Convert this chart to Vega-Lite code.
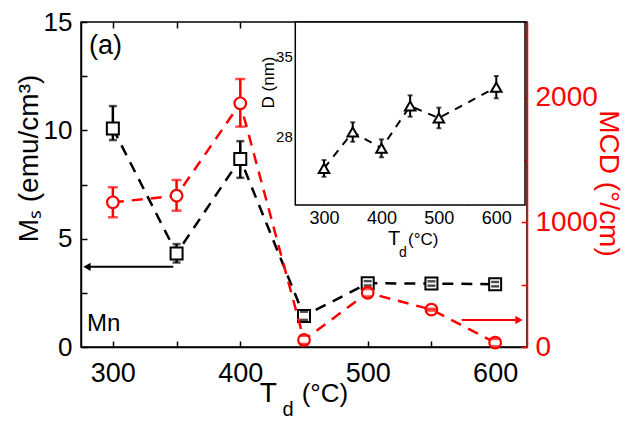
{
  "$schema": "https://vega.github.io/schema/vega-lite/v6.json",
  "width": 446,
  "height": 325,
  "autosize": "none",
  "padding": {"left": 81, "top": 22, "right": 103, "bottom": 74},
  "background": "white",
  "config": {
    "font": "Liberation Sans",
    "view": {"stroke": "black", "strokeWidth": 1.5},
    "axis": {"grid": false, "titleFontWeight": "normal", "labelOverlap": false, "labelFlush": false}
  },
  "datasets": {
    "ms": [
      {"td": 300, "v": 10.09, "lo": 9.55, "hi": 11.12},
      {"td": 350, "v": 4.32, "lo": 3.9, "hi": 4.75},
      {"td": 400, "v": 8.68, "lo": 7.81, "hi": 9.5},
      {"td": 450, "v": 1.43, "lo": 1.25, "hi": 1.63},
      {"td": 500, "v": 2.94, "lo": 2.84, "hi": 3.04},
      {"td": 550, "v": 2.93, "lo": 2.83, "hi": 3.03},
      {"td": 600, "v": 2.9, "lo": 2.8, "hi": 3.0}
    ],
    "mcd": [
      {"td": 300, "v": 1160, "lo": 1040, "hi": 1281},
      {"td": 350, "v": 1213, "lo": 1093, "hi": 1339},
      {"td": 400, "v": 1954, "lo": 1767, "hi": 2149},
      {"td": 450, "v": 56, "lo": 25, "hi": 90},
      {"td": 500, "v": 435, "lo": 405, "hi": 465},
      {"td": 550, "v": 300, "lo": 292, "hi": 306},
      {"td": 600, "v": 35, "lo": 5, "hi": 65}
    ],
    "dsize": [
      {"td": 300, "v": 25.2, "lo": 24.47, "hi": 25.93},
      {"td": 350, "v": 28.38, "lo": 27.53, "hi": 29.23},
      {"td": 400, "v": 26.96, "lo": 26.17, "hi": 27.74},
      {"td": 450, "v": 30.66, "lo": 29.72, "hi": 31.59},
      {"td": 500, "v": 29.6, "lo": 28.71, "hi": 30.51},
      {"td": 600, "v": 32.3, "lo": 31.33, "hi": 33.28}
    ]
  },
  "resolve": {"scale": {"x": "independent", "y": "independent"}},
  "layer": [
    {
      "layer": [
        {
          "data": {"name": "ms"},
          "mark": {"type": "line", "color": "black", "strokeWidth": 2.5, "strokeDash": [11, 8]},
          "encoding": {
            "x": {"field": "td", "type": "quantitative",
              "scale": {"domain": [275, 625], "nice": false, "zero": false},
              "axis": {"orient": "bottom", "values": [300, 350, 400, 450, 500, 550, 600],
                "labelExpr": "datum.value % 100 === 0 ? datum.label : ''",
                "tickSize": -6, "tickWidth": 1.5, "tickColor": "black", "labelPadding": 19,
                "labelFontSize": 27, "labelColor": "black", "domainColor": "black", "domainWidth": 1.5, "title": null}},
            "y": {"field": "v", "type": "quantitative",
              "scale": {"domain": [0, 15], "nice": false, "zero": false},
              "axis": {"orient": "left", "values": [0, 2.5, 5, 7.5, 10, 12.5, 15],
                "labelExpr": "datum.value % 5 === 0 ? datum.label : ''",
                "tickSize": -6, "tickWidth": 1.5, "tickColor": "black", "labelPadding": 15,
                "labelFontSize": 26, "labelColor": "black", "domainColor": "black", "domainWidth": 1.5,
                "title": "Mₛ (emu/cm³)", "titleFontSize": 28, "titleColor": "black",
                "titleAngle": -90, "titleX": -44, "titleY": 136, "titleAlign": "center", "titleBaseline": "alphabetic"}}
          }
        },
        {
          "data": {"name": "ms"},
          "mark": {"type": "rule", "color": "black", "strokeWidth": 2.5},
          "encoding": {
            "x": {"field": "td", "type": "quantitative"},
            "y": {"field": "lo", "type": "quantitative"},
            "y2": {"field": "hi"}
          }
        },
        {
          "data": {"name": "ms"},
          "mark": {"type": "point", "shape": "square", "filled": true, "fill": "white", "stroke": "black", "strokeWidth": 2, "size": 144, "opacity": 1},
          "encoding": {
            "x": {"field": "td", "type": "quantitative"},
            "y": {"field": "v", "type": "quantitative"}
          }
        },
        {
          "data": {"name": "ms"},
          "mark": {"type": "tick", "orient": "horizontal", "color": "black", "size": 8, "thickness": 2.5},
          "encoding": {
            "x": {"field": "td", "type": "quantitative"},
            "y": {"field": "lo", "type": "quantitative"}
          }
        },
        {
          "data": {"name": "ms"},
          "mark": {"type": "tick", "orient": "horizontal", "color": "black", "size": 8, "thickness": 2.5},
          "encoding": {
            "x": {"field": "td", "type": "quantitative"},
            "y": {"field": "hi", "type": "quantitative"}
          }
        },
        {
          "data": {"values": [{"x1": 347.4, "x2": 279.7, "y": 3.7}]},
          "mark": {"type": "rule", "color": "black", "strokeWidth": 2},
          "encoding": {
            "x": {"field": "x1", "type": "quantitative"},
            "x2": {"field": "x2"},
            "y": {"field": "y", "type": "quantitative"}
          }
        },
        {
          "data": {"values": [{"x": 279.7, "y": 3.7}]},
          "mark": {"type": "point", "shape": "triangle-left", "filled": true, "color": "black", "size": 70, "opacity": 1},
          "encoding": {
            "x": {"field": "x", "type": "quantitative"},
            "y": {"field": "y", "type": "quantitative"}
          }
        },
        {
          "data": {"values": [{"x": 281.3, "y": 13.89, "t": "(a)"}]},
          "mark": {"type": "text", "align": "left", "baseline": "middle", "fontSize": 27, "color": "black"},
          "encoding": {
            "x": {"field": "x", "type": "quantitative"},
            "y": {"field": "y", "type": "quantitative"},
            "text": {"field": "t"}
          }
        },
        {
          "data": {"values": [{"x": 279.7, "y": 1.06, "t": "Mn"}]},
          "mark": {"type": "text", "align": "left", "baseline": "middle", "fontSize": 24, "color": "black"},
          "encoding": {
            "x": {"field": "x", "type": "quantitative"},
            "y": {"field": "y", "type": "quantitative"},
            "text": {"field": "t"}
          }
        },
        {
          "data": {"values": [{"x": 422, "y": -2.52, "t": "T"}]},
          "mark": {"type": "text", "align": "center", "baseline": "alphabetic", "fontSize": 28, "color": "black"},
          "encoding": {
            "x": {"field": "x", "type": "quantitative"},
            "y": {"field": "y", "type": "quantitative"},
            "text": {"field": "t"}
          }
        },
        {
          "data": {"values": [{"x": 437.4, "y": -3.18, "t": "d"}]},
          "mark": {"type": "text", "align": "center", "baseline": "alphabetic", "fontSize": 20, "color": "black"},
          "encoding": {
            "x": {"field": "x", "type": "quantitative"},
            "y": {"field": "y", "type": "quantitative"},
            "text": {"field": "t"}
          }
        },
        {
          "data": {"values": [{"x": 448.2, "y": -2.54, "t": "(°C)"}]},
          "mark": {"type": "text", "align": "left", "baseline": "alphabetic", "fontSize": 26, "color": "black"},
          "encoding": {
            "x": {"field": "x", "type": "quantitative"},
            "y": {"field": "y", "type": "quantitative"},
            "text": {"field": "t"}
          }
        }
      ]
    },
    {
      "layer": [
        {
          "data": {"name": "mcd"},
          "mark": {"type": "line", "color": "#ff0000", "strokeWidth": 2.5, "strokeDash": [11, 8]},
          "encoding": {
            "x": {"field": "td", "type": "quantitative",
              "scale": {"domain": [275, 625], "nice": false, "zero": false},
              "axis": {"orient": "top", "values": [300, 350, 400, 450, 500, 550, 600],
                "labels": false, "tickSize": -6, "tickWidth": 1.5, "tickColor": "black", "domain": false, "title": null}},
            "y": {"field": "v", "type": "quantitative",
              "scale": {"domain": [0, 2606], "nice": false, "zero": false},
              "axis": {"orient": "right", "values": [0, 500, 1000, 1500, 2000, 2500],
                "labelExpr": "datum.value % 1000 === 0 ? datum.label : ''",
                "format": "d",
                "tickSize": -6, "tickWidth": 1.5, "tickColor": "#ff0000", "labelPadding": 14,
                "labelFontSize": 28, "labelColor": "#ff0000", "domainColor": "#ff0000", "domainWidth": 1.5,
                "title": "MCD (°/cm)", "titleFontSize": 28, "titleColor": "#ff0000",
                "titleAngle": 90, "titleX": 72, "titleY": 161, "titleAlign": "center", "titleBaseline": "alphabetic"}}
          }
        },
        {
          "data": {"name": "mcd"},
          "mark": {"type": "rule", "color": "#ff0000", "strokeWidth": 2.5},
          "encoding": {
            "x": {"field": "td", "type": "quantitative"},
            "y": {"field": "lo", "type": "quantitative"},
            "y2": {"field": "hi"}
          }
        },
        {
          "data": {"name": "mcd"},
          "mark": {"type": "point", "shape": "circle", "filled": true, "fill": "white", "stroke": "#ff0000", "strokeWidth": 2.2, "size": 135, "opacity": 1},
          "encoding": {
            "x": {"field": "td", "type": "quantitative"},
            "y": {"field": "v", "type": "quantitative"}
          }
        },
        {
          "data": {"name": "mcd"},
          "mark": {"type": "tick", "orient": "horizontal", "color": "#ff0000", "size": 10, "thickness": 2.5},
          "encoding": {
            "x": {"field": "td", "type": "quantitative"},
            "y": {"field": "lo", "type": "quantitative"}
          }
        },
        {
          "data": {"name": "mcd"},
          "mark": {"type": "tick", "orient": "horizontal", "color": "#ff0000", "size": 10, "thickness": 2.5},
          "encoding": {
            "x": {"field": "td", "type": "quantitative"},
            "y": {"field": "hi", "type": "quantitative"}
          }
        },
        {
          "data": {"values": [{"x1": 573.7, "x2": 618.7, "y": 216.5}]},
          "mark": {"type": "rule", "color": "#ff0000", "strokeWidth": 2},
          "encoding": {
            "x": {"field": "x1", "type": "quantitative"},
            "x2": {"field": "x2"},
            "y": {"field": "y", "type": "quantitative"}
          }
        },
        {
          "data": {"values": [{"x": 618.7, "y": 216.5}]},
          "mark": {"type": "point", "shape": "triangle-right", "filled": true, "color": "#ff0000", "size": 70, "opacity": 1},
          "encoding": {
            "x": {"field": "x", "type": "quantitative"},
            "y": {"field": "y", "type": "quantitative"}
          }
        }
      ]
    },
    {
      "layer": [
        {
          "data": {"values": [{"x1": 250, "x2": 650, "y1": 22, "y2": 38}]},
          "mark": {"type": "rect", "fill": "white", "stroke": "black", "strokeWidth": 1.5},
          "encoding": {
            "x": {"field": "x1", "type": "quantitative",
              "scale": {"domain": [250, 650], "range": [214.3, 444], "nice": false, "zero": false},
              "axis": {"orient": "bottom", "offset": -142, "values": [300, 350, 400, 450, 500, 550, 600],
                "labelExpr": "datum.value % 100 === 0 ? datum.label : ''",
                "tickSize": -4, "tickWidth": 1.2, "tickColor": "black", "labelPadding": 8,
                "labelFontSize": 18, "labelColor": "black", "domain": false, "title": null}},
            "x2": {"field": "x2"},
            "y": {"field": "y1", "type": "quantitative",
              "scale": {"domain": [22, 38], "range": [183, 0], "nice": false, "zero": false},
              "axis": {"orient": "left", "offset": -214.3, "values": [24.5, 28, 31.5, 35],
                "labelExpr": "datum.value === 28 || datum.value === 35 ? datum.label : ''",
                "tickSize": -4, "tickWidth": 1.2, "tickColor": "black", "labelPadding": 7,
                "labelFontSize": 15, "labelColor": "black", "domain": false,
                "title": "D (nm)", "titleFontSize": 17, "titleColor": "black",
                "titleAngle": -90, "titleX": -22, "titleY": 60, "titleAlign": "center", "titleBaseline": "alphabetic"}},
            "y2": {"field": "y2"}
          }
        },
        {
          "data": {"name": "dsize"},
          "mark": {"type": "line", "color": "black", "strokeWidth": 2, "strokeDash": [8, 7]},
          "encoding": {
            "x": {"field": "td", "type": "quantitative"},
            "y": {"field": "v", "type": "quantitative"}
          }
        },
        {
          "data": {"name": "dsize"},
          "mark": {"type": "rule", "color": "black", "strokeWidth": 2},
          "encoding": {
            "x": {"field": "td", "type": "quantitative"},
            "y": {"field": "lo", "type": "quantitative"},
            "y2": {"field": "hi"}
          }
        },
        {
          "data": {"name": "dsize"},
          "mark": {"type": "point", "shape": "triangle-up", "filled": true, "fill": "white", "stroke": "black", "strokeWidth": 2, "size": 110, "opacity": 1},
          "encoding": {
            "x": {"field": "td", "type": "quantitative"},
            "y": {"field": "v", "type": "quantitative"}
          }
        },
        {
          "data": {"name": "dsize"},
          "mark": {"type": "tick", "orient": "horizontal", "color": "black", "size": 5, "thickness": 2},
          "encoding": {
            "x": {"field": "td", "type": "quantitative"},
            "y": {"field": "lo", "type": "quantitative"}
          }
        },
        {
          "data": {"name": "dsize"},
          "mark": {"type": "tick", "orient": "horizontal", "color": "black", "size": 5, "thickness": 2},
          "encoding": {
            "x": {"field": "td", "type": "quantitative"},
            "y": {"field": "hi", "type": "quantitative"}
          }
        },
        {
          "data": {"values": [{"x": 421.9, "y": 18.5, "t": "T"}]},
          "mark": {"type": "text", "align": "center", "baseline": "alphabetic", "fontSize": 20, "color": "black"},
          "encoding": {
            "x": {"field": "x", "type": "quantitative"},
            "y": {"field": "y", "type": "quantitative"},
            "text": {"field": "t"}
          }
        },
        {
          "data": {"values": [{"x": 437.5, "y": 17.48, "t": "d"}]},
          "mark": {"type": "text", "align": "center", "baseline": "alphabetic", "fontSize": 14, "color": "black"},
          "encoding": {
            "x": {"field": "x", "type": "quantitative"},
            "y": {"field": "y", "type": "quantitative"},
            "text": {"field": "t"}
          }
        },
        {
          "data": {"values": [{"x": 446.2, "y": 18.5, "t": "(°C)"}]},
          "mark": {"type": "text", "align": "left", "baseline": "alphabetic", "fontSize": 17, "color": "black"},
          "encoding": {
            "x": {"field": "x", "type": "quantitative"},
            "y": {"field": "y", "type": "quantitative"},
            "text": {"field": "t"}
          }
        }
      ]
    }
  ]
}
